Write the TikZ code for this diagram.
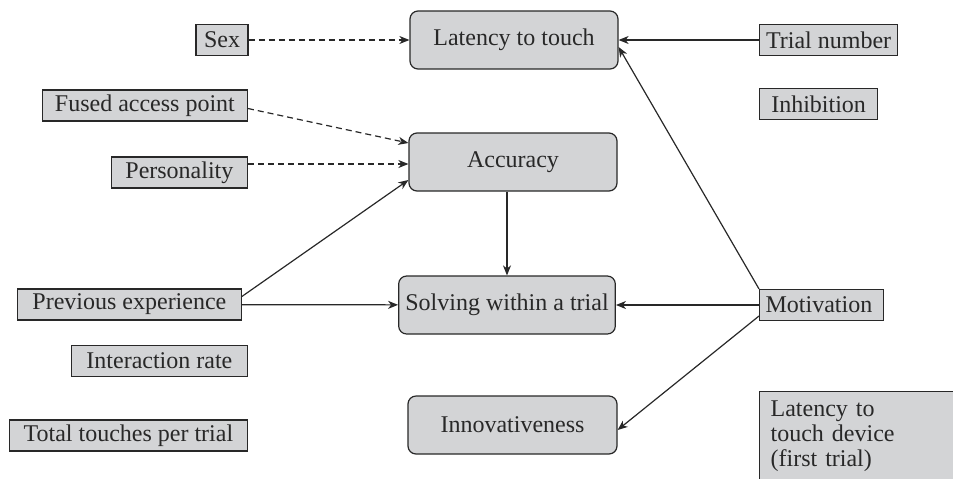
\documentclass[tikz,border=0pt]{standalone}
\usepackage{fontspec}
\setmainfont{Liberation Serif}
\usepackage{tikz}
\usetikzlibrary{arrows.meta, positioning, calc}
\definecolor{boxgray}{RGB}{211,212,214}
\definecolor{linegray}{RGB}{40,40,40}

\begin{document}
\begin{tikzpicture}[x=0.5pt, y=-0.5pt,
  every node/.style={font=\fontsize{12}{12.5}\selectfont, text=linegray},
  var/.style={draw=linegray, fill=boxgray, line width=0.6pt, minimum height=15.5pt, inner xsep=3pt, inner ysep=2pt},
  outcome/.style={draw=linegray, fill=boxgray, line width=0.6pt, rounded corners=4pt, minimum width=104pt, minimum height=29pt},
  eff/.style={-{Stealth[length=5pt, width=4pt, inset=1.5pt]}, line width=0.6pt, draw=linegray},
  dep/.style={eff, dash pattern=on 3pt off 2pt}]
\useasboundingbox (0,0) rectangle (953,478);
% outcomes
\node (Latency) [outcome] at (514,40) {Latency to touch};
\node (Accuracy) [outcome] at (513,162) {Accuracy};
\node (Solving) [outcome, minimum width=105pt] at (507,305) {Solving within a trial};
\node (Innov) [outcome, minimum width=104.5pt] at (512.5,425) {Innovativeness};
% predictors, left
\node (Sex) [var, minimum width=26pt] at (222,40) {Sex};
\node (Fused) [var, minimum width=102.5pt, anchor=east] at (248,105.5) {Fused access point};
\node (Person) [var, minimum width=68pt, anchor=east] at (248,172.5) {Personality};
\node (Prev) [var, minimum width=112pt, anchor=east] at (242,304.5) {Previous experience};
\node (Inter) [var, minimum width=88pt, anchor=east] at (248,361) {Interaction rate};
\node (Total) [var, minimum width=119pt, anchor=east] at (248,435.5) {Total touches per trial};
% predictors, right
\node (Trial) [var, minimum width=69pt, anchor=west] at (759,40) {Trial number};
\node (Inhib) [var, minimum width=59pt, anchor=west] at (759,104) {Inhibition};
\node (Motiv) [var, text width=56pt, align=left, anchor=west] at (759,305) {Motivation};
\node (Device) [var, text width=89pt, inner xsep=5.5pt, align=left, minimum height=45pt, anchor=north west] at (759,391) {Latency to\\touch device\\(first trial)};
% effects
\coordinate (AccIn) at ([yshift=-1pt]Accuracy.west);
\draw[dep] (Sex) -- (Latency);
\draw[dep] ([yshift=-1.5pt]Fused.east) -- ([yshift=9.5pt]Accuracy.west);
\draw[dep] (Person.east |- AccIn) -- (AccIn);
\draw[eff] ([yshift=-4pt]Prev.north east) -- ([yshift=-9pt]Accuracy.west);
\draw[eff] (Prev) -- (Solving);
\draw[eff] (Accuracy.south -| Solving.north) -- (Solving.north);
\draw[eff] (Trial) -- (Latency);
\draw[eff] (Motiv.north west) -- ([yshift=-3.5pt]Latency.east);
\draw[eff] (Motiv) -- (Solving);
\draw[eff] ([yshift=-5.5pt]Motiv.west) -- ([yshift=-2.5pt]Innov.east);
\end{tikzpicture}
\end{document}
